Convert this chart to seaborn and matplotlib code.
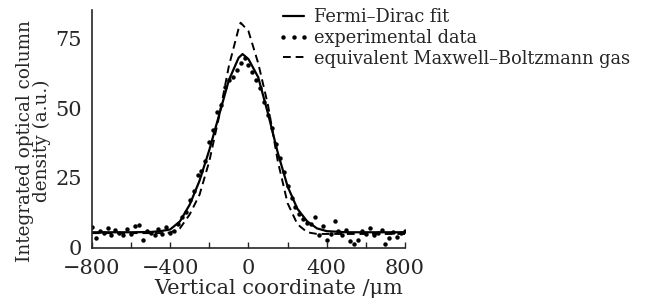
import numpy as np
import pandas as pd
import matplotlib
matplotlib.use("Agg")
import matplotlib.pyplot as plt
import seaborn as sns

# Fermi-Dirac fit
fd_x = [-800, -700, -600, -500, -450, -400, -350, -300, -250, -200, -150, -100, -50, -30,
        0, 50, 100, 150, 200, 250, 300, 350, 400, 450, 500, 600, 700, 800]
fd_y = [5.6, 5.6, 5.6, 5.7, 6.0, 6.6, 9.5, 15.5, 24.0, 35.0, 47.5, 60.0, 68.0, 69.3,
        67.5, 61.0, 48.0, 34.0, 22.0, 14.0, 9.5, 7.0, 6.0, 5.8, 5.6, 5.6, 5.6, 5.6]

# equivalent Maxwell-Boltzmann gas
mb_x = [-800, -600, -450, -400, -350, -300, -250, -200, -150, -100, -50, -40,
        0, 50, 100, 150, 200, 250, 300, 350, 400, 600, 800]
mb_y = [5.3, 5.3, 5.3, 5.5, 7.0, 12.0, 19.0, 31.0, 47.0, 65.0, 78.5, 80.5,
        77.5, 66.0, 51.0, 31.0, 16.0, 8.5, 5.6, 5.0, 5.0, 5.0, 5.0]

# experimental data
exp_x = [-800, -780, -760, -740, -720, -700, -680, -660, -640, -620, -600, -580, -560, -540,
         -520, -500, -480, -460, -440, -420, -400, -380, -360, -340, -320, -300, -280, -260,
         -240, -220, -200, -180, -160, -140, -120, -100, -80, -60, -40, -20, 0, 20, 40, 60,
         80, 100, 120, 140, 160, 180, 200, 220, 240, 260, 280, 300, 320, 340, 360, 380, 400,
         420, 440, 460, 480, 500, 520, 540, 560, 580, 600, 620, 640, 660, 680, 700, 720, 740,
         760, 780, 800]
exp_y = [7.5, 3.5, 6.0, 5.2, 7.2, 4.8, 6.5, 5.5, 4.6, 6.8, 5.0, 7.8, 8.2, 3.0,
         6.2, 5.4, 4.5, 6.6, 5.0, 7.5, 5.2, 6.0, 8.5, 11.0, 13.0, 17.0, 20.5, 26.0,
         27.5, 31.0, 38.0, 42.0, 48.5, 51.0, 57.5, 60.0, 61.0, 63.5, 66.0, 68.0, 65.5, 63.0, 60.0, 57.0,
         52.0, 47.5, 43.0, 37.0, 32.0, 27.0, 22.0, 18.0, 14.5, 12.0, 10.5, 9.0, 8.5, 11.0, 4.5, 8.0, 3.0,
         5.0, 9.5, 6.0, 4.5, 6.5, 2.5, 1.5, 3.0, 6.0, 5.0, 7.0, 4.5, 5.5, 6.5, 1.5, 3.5, 5.8,
         4.0, 5.5, 6.0]

sns.set_style("ticks")
plt.rcParams["font.family"] = ["DejaVu Serif"]
plt.rcParams["axes.unicode_minus"] = True

fig = plt.figure(figsize=(6.47, 2.98), dpi=100)
ax = fig.add_axes([0.142, 0.168, 0.484, 0.798])

sns.lineplot(x=fd_x, y=fd_y, ax=ax, color="black", lw=1.6, label="Fermi\u2013Dirac fit")
sns.lineplot(x=exp_x, y=exp_y, ax=ax, color="black", lw=0, marker="o", markersize=3.2,
             markeredgewidth=0, label="experimental data")
sns.lineplot(x=mb_x, y=mb_y, ax=ax, color="black", lw=1.4, linestyle=(0, (4, 2.5)),
             label="equivalent Maxwell\u2013Boltzmann gas")

ax.set_xlim(-800, 800)
ax.set_ylim(0, 85)
ax.set_xticks([-800, -600, -400, -200, 0, 200, 400, 600, 800])
ax.set_xticklabels(["\u2212800", "", "\u2212400", "", "0", "", "400", "", "800"])
ax.set_yticks([0, 25, 50, 75])
ax.tick_params(axis="x", direction="in", length=4, width=1, labelsize=15, pad=8)
ax.tick_params(axis="y", length=0, labelsize=15, pad=7)
sns.despine(ax=ax)
for s in ["left", "bottom"]:
    ax.spines[s].set_linewidth(1.2)

ax.set_xlabel("Vertical coordinate /\u03bcm", fontsize=15, labelpad=0)
ax.xaxis.set_label_coords(0.595, -0.13)
ax.set_ylabel("Integrated optical column\ndensity (a.u.)", fontsize=13.2, linespacing=0.95,
              multialignment="center")
ax.yaxis.set_label_coords(-0.13, 0.45)

ax.legend(loc="upper left", bbox_to_anchor=(0.421, 0.99), bbox_transform=fig.transFigure,
          frameon=False, fontsize=12.8, handlelength=1.8, handletextpad=0.25,
          labelspacing=0.15, numpoints=3, borderaxespad=0, borderpad=0.3)

fig.savefig("out.png", dpi=100)
